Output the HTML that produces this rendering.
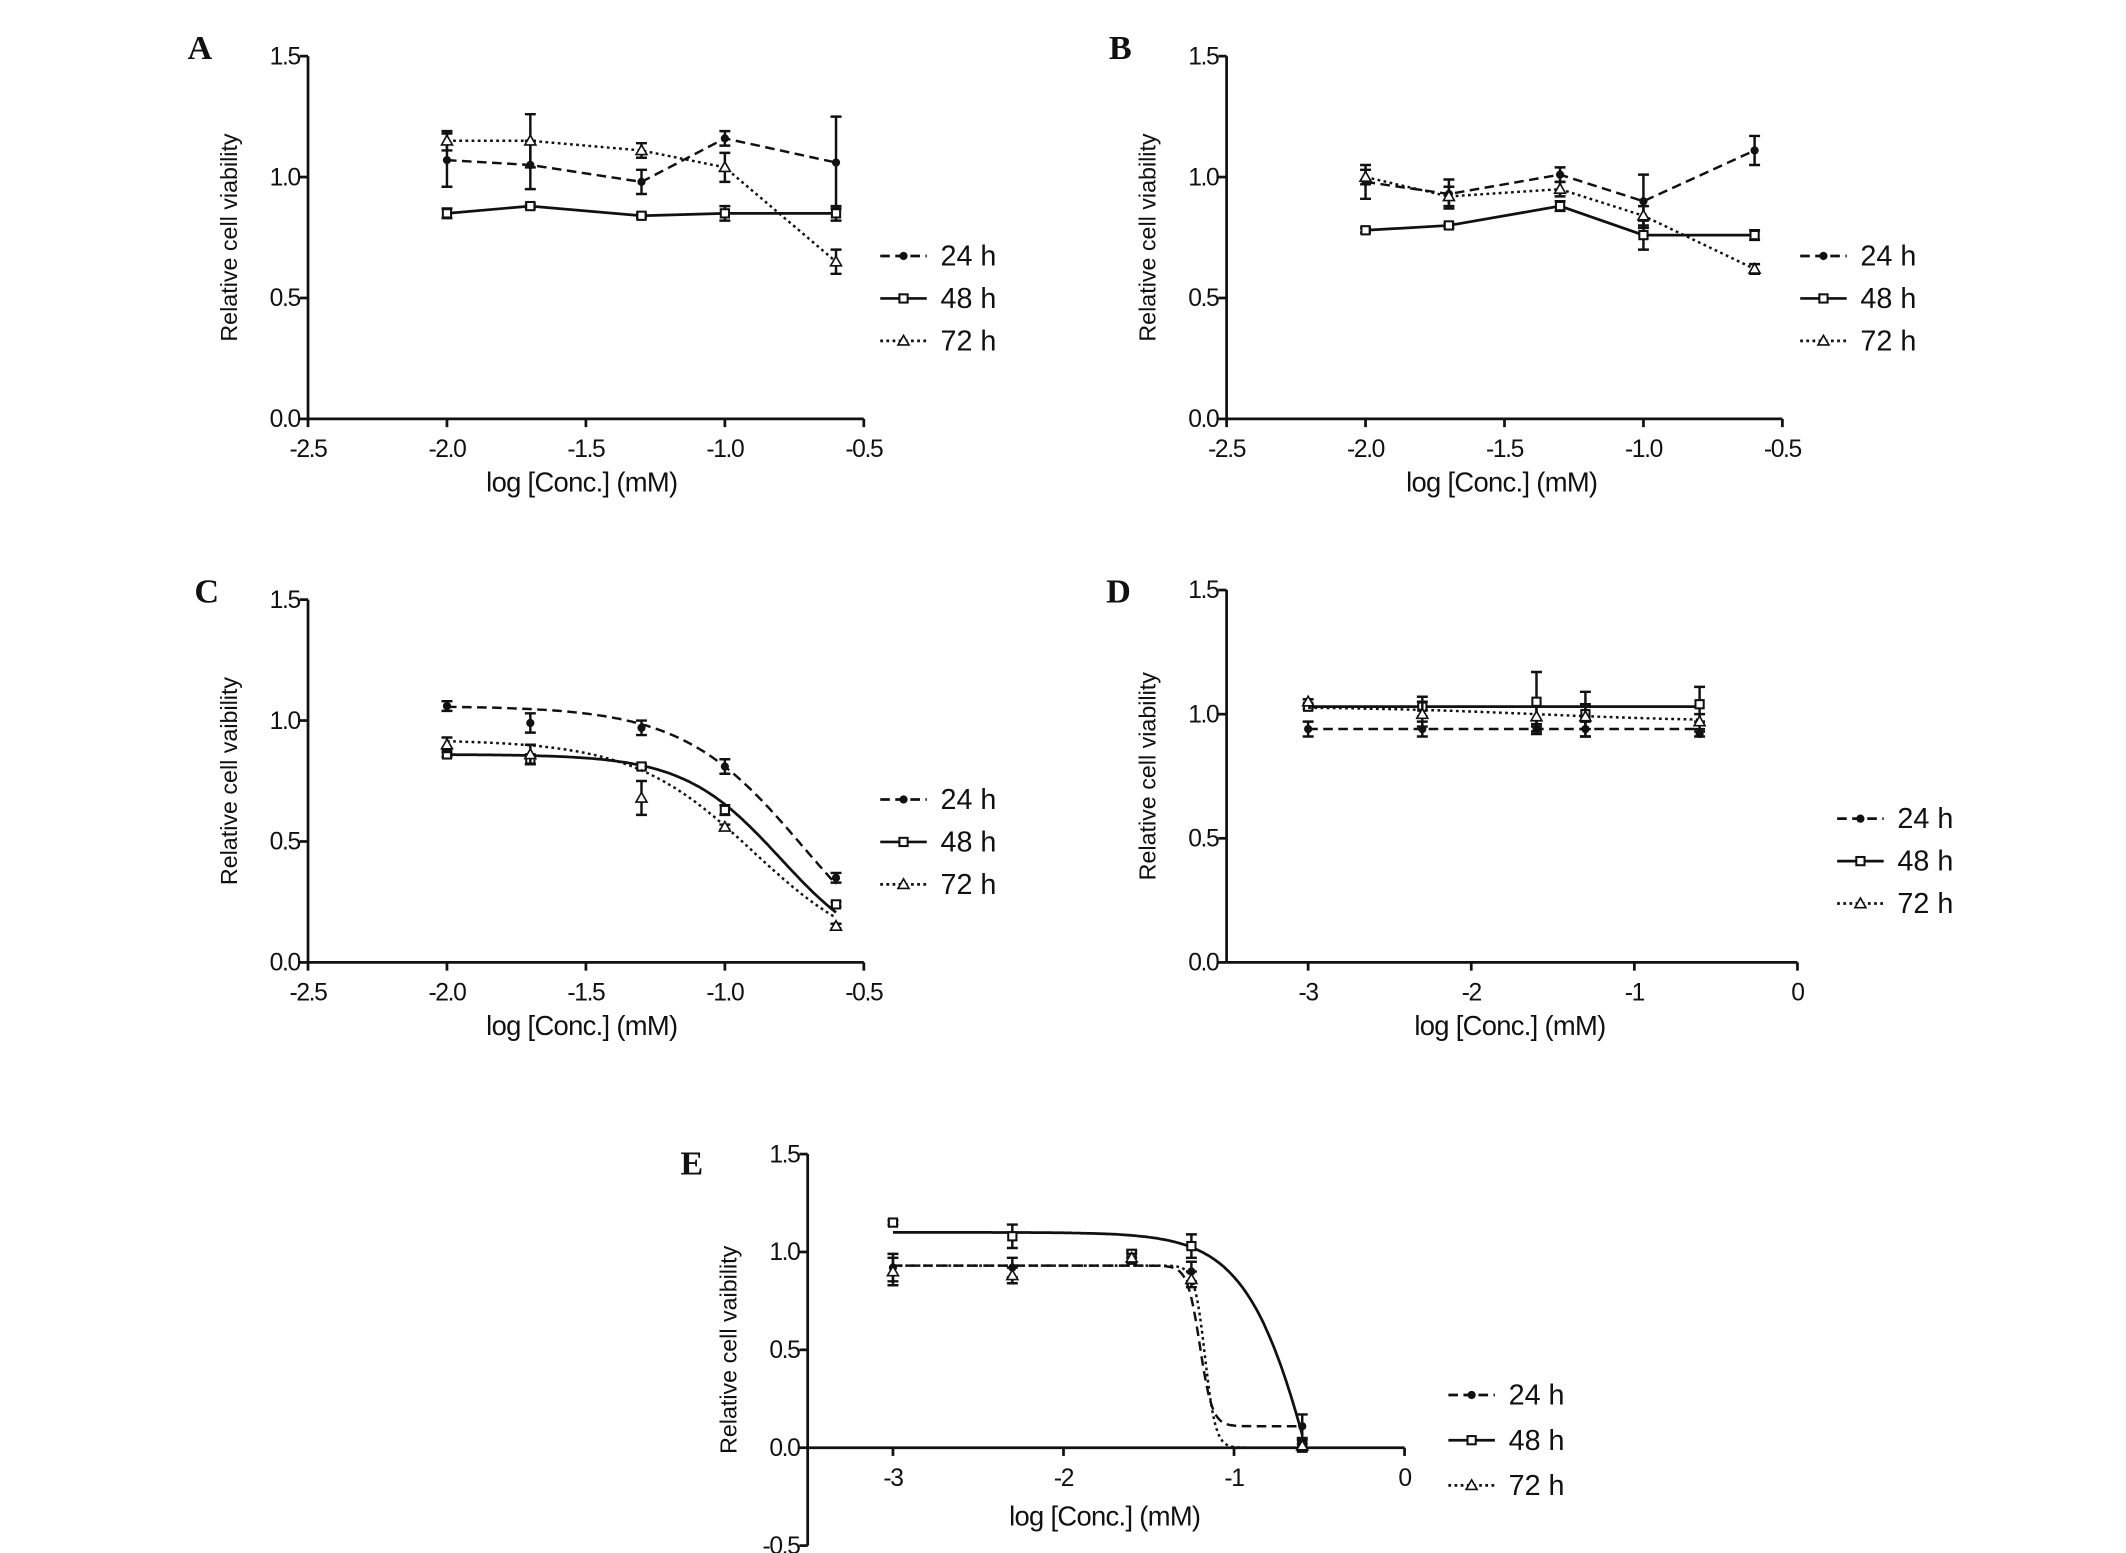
<!DOCTYPE html>
<html><head><meta charset="utf-8"><style>
html,body{margin:0;padding:0;background:#fff;}
svg{display:block;}
text{font-family:"Liberation Sans",Arial,sans-serif;fill:#111;}
.lab{font-family:"Liberation Serif","Times New Roman",serif;font-weight:bold;font-size:25px;}
</style></head><body>
<svg id="fig" width="2126" height="1553" viewBox="0 0 1553 1134.4" preserveAspectRatio="none" xmlns="http://www.w3.org/2000/svg"></svg>
<script>
// ---- data ----
const seriesNames = ["24 h","48 h","72 h"];
const xA = [-2,-1.7,-1.3,-1,-0.6];
const a24 = [1.07,1.05,0.98,1.16,1.06], a24e = [0.11,0.10,0.05,0.03,0.19];
const a48 = [0.85,0.88,0.84,0.85,0.85], a48e = [0.02,0.01,0.01,0.03,0.03];
const a72 = [1.15,1.15,1.11,1.04,0.65], a72e = [0.04,0.11,0.03,0.06,0.05];
const b24 = [0.98,0.93,1.01,0.90,1.11], b24e = [0.07,0.06,0.03,0.11,0.06];
const b48 = [0.78,0.80,0.88,0.76,0.76], b48e = [0.01,0.01,0.02,0.06,0.02];
const b72 = [1.00,0.92,0.95,0.84,0.62], b72e = [0.03,0.04,0.03,0.04,0.02];
const c24 = [1.06,0.99,0.97,0.81,0.35], c24e = [0.02,0.04,0.03,0.03,0.02];
const c48 = [0.86,0.84,0.81,0.63,0.24], c48e = [0.01,0.02,0.01,0.02,0.01];
const c72 = [0.90,0.86,0.68,0.56,0.15], c72e = [0.03,0.04,0.07,0.01,0.01];
const xD = [-3,-2.3,-1.6,-1.3,-0.6];
const d24 = [0.94,0.94,0.94,0.94,0.92], d24e = [0.03,0.03,0.02,0.03,0.01];
const d48 = [1.03,1.03,1.05,1.00,1.04], d48e = [0.01,0.04,0.12,0.09,0.07];
const d72 = [1.05,1.00,0.99,0.99,0.97], d72e = [0.01,0.05,0.04,0.05,0.03];
const xE = [-3,-2.3,-1.6,-1.25,-0.6];
const e24 = [0.92,0.92,0.97,0.90,0.11], e24e = [0.07,0.05,0.03,0.05,0.06];
const e48 = [1.15,1.08,0.99,1.03,0.01], e48e = [0.01,0.06,0.02,0.06,0.03];
const e72 = [0.90,0.88,0.97,0.86,0.01], e72e = [0.07,0.04,0.02,0.04,0.01];
// sigmoid fit params [top, bottom, logEC50, hill]
const fitC24 = [1.06,-0.1,-0.72,2];
const fitC48 = [0.86,0.0,-0.8,2.5];
const fitC72 = [0.92,0.0,-0.9,2];
const fitE24 = [0.93,0.11,-1.2,12];
const fitE48 = [1.10,-2.0,-0.45,2];
const fitE72 = [0.93,0.0,-1.17,14];
const fitD24 = [0.94,0.94,-2,1];
const fitD48 = [1.03,1.03,-2,1];
const fitD72 = [1.03,0.97,-1.6,0.8];
const ticksAB = [-2.5,-2.0,-1.5,-1.0,-0.5];
const ticksDE = [-3,-2,-1,0];
const yTicks = [0,0.5,1.0,1.5];
const yTicksE = [-0.5,0,0.5,1.0,1.5];

const NS="http://www.w3.org/2000/svg";
const svg=document.getElementById('fig');
function el(tag,attrs,parent){const e=document.createElementNS(NS,tag);for(const k in attrs)e.setAttribute(k,attrs[k]);(parent||svg).appendChild(e);return e;}
const dashes=["7,4","","2,2.5"];

function panel(cfg){
  const g=el('g',{});
  
  
  const X=v=>cfg.x0+(v-cfg.xmin)/(cfg.xmax-cfg.xmin)*(cfg.x1-cfg.x0);
  const Y=v=>cfg.yb-(v-cfg.ymin)/(cfg.ymax-cfg.ymin)*(cfg.yb-cfg.yt);
  const lab=el('text',{x:cfg.lx,y:cfg.ly,class:'lab'},g);lab.textContent=cfg.id;
  
  
  const ya=el('line',{x1:cfg.x0,y1:Y(cfg.ymax),x2:cfg.x0,y2:Y(cfg.ymin),stroke:'#111','stroke-width':2},g);
  
  
  const y0=Y(0);
  const xa=el('line',{x1:cfg.x0,y1:y0,x2:X(cfg.xmax),y2:y0,stroke:'#111','stroke-width':2},g);
  
  
  cfg.yticks.forEach(t=>{
    el('line',{x1:cfg.x0-6,y1:Y(t),x2:cfg.x0,y2:Y(t),stroke:'#111','stroke-width':2},g);
    const tx=el('text',{x:cfg.x0-6,y:Y(t)+6,'text-anchor':'end','font-size':18,'letter-spacing':'-1'},g);tx.textContent=t.toFixed(1);
    
    
  });
  cfg.xticks.forEach(t=>{
    el('line',{x1:X(t),y1:y0,x2:X(t),y2:y0+6,stroke:'#111','stroke-width':2},g);
    const tx=el('text',{x:X(t),y:y0+28,'text-anchor':'middle','font-size':18,'letter-spacing':'-1'},g);tx.textContent=cfg.dec?t.toFixed(1):String(t);
    
    
  });
  const xt=el('text',{x:cfg.xtx,y:y0+cfg.xty,'text-anchor':'middle','font-size':20,'letter-spacing':'-0.5'},g);xt.textContent='log [Conc.] (mM)';
  
  
  const ymid=(cfg.yt+cfg.ybot)/2;
  const yt=el('text',{x:0,y:0,'text-anchor':'middle','font-size':17,transform:`translate(${cfg.x0-52},${ymid}) rotate(-90)`},g);yt.textContent=cfg.ytitle;
  
  
  cfg.series.forEach((s,i)=>{
    const sg=el('g',{},g);
    
    
    let d='';
    if(s.fit){
      const [top,bot,ec,h]=s.fit;let started=false;
      for(let k=0;k<=200;k++){const v=cfg.xs[0]+(cfg.xs[cfg.xs.length-1]-cfg.xs[0])*k/200;
        const yv=bot+(top-bot)/(1+Math.pow(10,(v-ec)*h));
        if(yv<cfg.clip) break;
        d+=(started?'L':'M')+X(v).toFixed(1)+','+Y(yv).toFixed(1);started=true;}
    } else {
      cfg.xs.forEach((v,j)=>{d+=(j?'L':'M')+X(v)+','+Y(s.v[j]);});
    }
    const ln=el('path',{d,fill:'none',stroke:'#111','stroke-width':i==1?2:1.8,'stroke-dasharray':dashes[i]},sg);
    
    
    cfg.xs.forEach((v,j)=>{
      const cx=X(v),cy=Y(s.v[j]),e=s.e[j];
      el('path',{d:`M${cx},${Y(s.v[j]+e)}V${Y(s.v[j]-e)}M${cx-4},${Y(s.v[j]+e)}h8M${cx-4},${Y(s.v[j]-e)}h8`,stroke:'#111','stroke-width':1.8,fill:'none'},sg);
      let m;
      if(i==0) m=el('circle',{cx,cy,r:3,fill:'#111'},sg);
      else if(i==1) m=el('rect',{x:cx-3,y:cy-3,width:6,height:6,fill:'#fff',stroke:'#111','stroke-width':1.5},sg);
      else m=el('path',{d:`M${cx},${cy-4}L${cx+4},${cy+3}L${cx-4},${cy+3}Z`,fill:'#fff',stroke:'#111','stroke-width':1.2},sg);
      
      
    });
  });
  const lg=el('g',{},g);
  
  
  seriesNames.forEach((n,i)=>{
    const ly=cfg.legy+i*cfg.legdy;
    const le=el('g',{},lg);
    
    
    el('line',{x1:cfg.legx,y1:ly,x2:cfg.legx+34,y2:ly,stroke:'#111','stroke-width':2,'stroke-dasharray':dashes[i]},le);
    const cx=cfg.legx+17;
    if(i==0) el('circle',{cx,cy:ly,r:3,fill:'#111'},le);
    else if(i==1) el('rect',{x:cx-3,y:ly-3,width:6,height:6,fill:'#fff',stroke:'#111','stroke-width':1.5},le);
    else el('path',{d:`M${cx},${ly-4}L${cx+4},${ly+3}L${cx-4},${ly+3}Z`,fill:'#fff',stroke:'#111','stroke-width':1.2},le);
    const t=el('text',{x:cfg.legx+44,y:ly+7,'font-size':21},le);t.textContent=n;
  });
}
const base={xmin:-2.5,xmax:-0.5,ymin:0,ymax:1.5,xticks:ticksAB,yticks:yTicks,dec:true,xs:xA,ytitle:'Relative cell viability',legdy:31,clip:-1};
panel(Object.assign({},base,{id:'A',lx:137,ly:43,x0:225,x1:631,yt:41,yb:306,ybot:306,xtx:425,xty:53,legx:643,legy:187,
  series:[{v:a24,e:a24e},{v:a48,e:a48e},{v:a72,e:a72e}]}));
panel(Object.assign({},base,{id:'B',lx:810,ly:43,x0:896,x1:1302,yt:41,yb:306,ybot:306,xtx:1097,xty:53,legx:1315,legy:187,
  series:[{v:b24,e:b24e},{v:b48,e:b48e},{v:b72,e:b72e}]}));
panel(Object.assign({},base,{id:'C',lx:142,ly:440,x0:225,x1:631,yt:438,yb:703,ybot:703,xtx:425,xty:53,ytitle:'Relative cell vaibility',legx:643,legy:584,
  series:[{v:c24,e:c24e,fit:fitC24},{v:c48,e:c48e,fit:fitC48},{v:c72,e:c72e,fit:fitC72}]}));
panel(Object.assign({},base,{id:'D',lx:808,ly:440,x0:896,x1:1313,xmin:-3.5,xmax:0,xticks:ticksDE,dec:false,xs:xD,yt:431,yb:703,ybot:703,xtx:1103,xty:53,ytitle:'Relative cell viability',legx:1342,legy:598,
  series:[{v:d24,e:d24e,fit:fitD24},{v:d48,e:d48e,fit:fitD48},{v:d72,e:d72e,fit:fitD72}]}));
panel(Object.assign({},base,{id:'E',lx:497,ly:858,x0:590,x1:1026,xmin:-3.5,xmax:0,ymin:-0.5,xticks:ticksDE,yticks:yTicksE,dec:false,xs:xE,yt:843,yb:1129,ybot:1129,xtx:807,xty:57,ytitle:'Relative cell vaibility',legx:1058,legy:1019,legdy:33,clip:0,
  series:[{v:e24,e:e24e,fit:fitE24},{v:e48,e:e48e,fit:fitE48},{v:e72,e:e72e,fit:fitE72}]}));
</script>
</body></html>
